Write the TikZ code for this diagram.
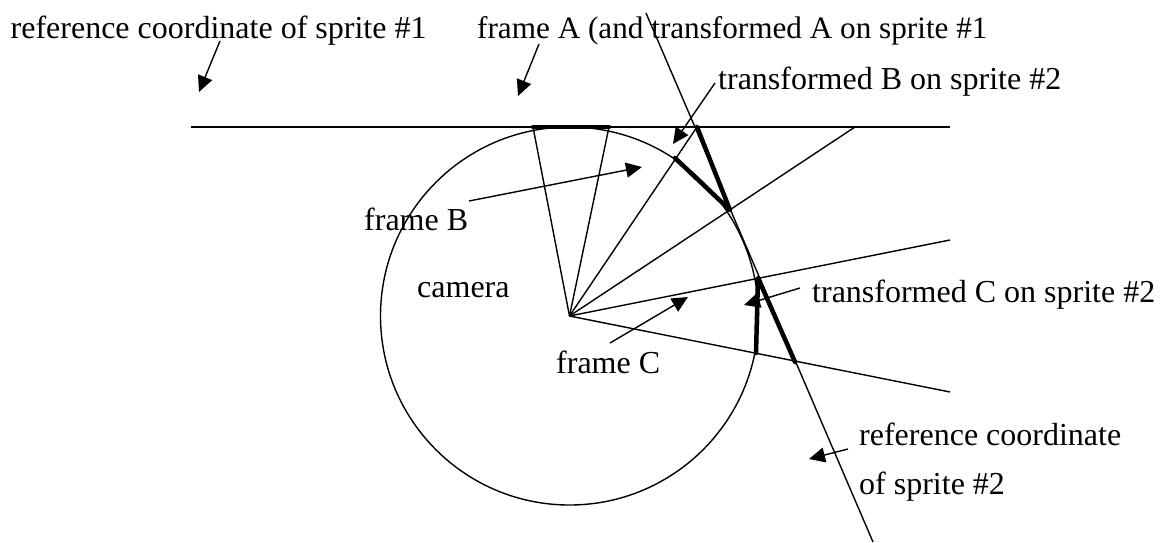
\documentclass[tikz,border=0pt]{standalone}
\usepackage{fontspec}
\setmainfont{Liberation Serif}
\usetikzlibrary{arrows.meta,positioning,calc}
\tikzset{
  spritelabel/.style={inner sep=0pt, anchor=base west, font=\fontsize{32}{36}\selectfont},
  thinline/.style={line width=1.4pt},
  edgebar/.style={line width=4.5pt, line cap=round, line join=round},
  arr/.style={-{Triangle[length=16pt,width=15pt]}, line width=1.4pt},
}
\begin{document}
\begin{tikzpicture}[x=1pt,y=-1pt]
  \useasboundingbox (0,0) rectangle (1165,542);

  % Camera and the two sprites
  \coordinate (O) at (569.5,316);
  \node[draw, circle, thinline, minimum size=378pt, inner sep=0pt] (camera) at (O) {};
  \coordinate (s1l) at (191,127);
  \coordinate (s1r) at (950,127);
  \coordinate (s2t) at (646,13);
  \coordinate (s2b) at (873,542);
  \draw[thinline] (s1l) -- (s1r);
  \draw[thinline] (s2t) -- (s2b);

  % Frame rays
  \coordinate (a1) at (533,127);
  \coordinate (a2) at (609,127);
  \coordinate (b1) at (697,127);
  \coordinate (b2) at (855,127);
  \coordinate (c1) at (950,240);
  \coordinate (c2) at (950,392);
  \foreach \v in {a1, a2, b1, b2, c1, c2}
    \draw[thinline] (O) -- (\v);

  % Thick frame edges
  \coordinate (tb) at (675,158);
  \coordinate (tbb) at (730,210);
  \coordinate (tc) at (758,278);
  \coordinate (tcb) at (756,353);
  \coordinate (sc) at (795,362);
  \draw[edgebar] (a1) -- (a2);
  \draw[edgebar] (tb) -- (tbb) -- (b1);
  \draw[edgebar] (tcb) -- (tc) -- (sc);

  % Labels
  \node[spritelabel] (lref1) at (10.5,38) {reference coordinate of sprite \#1};
  \node[spritelabel, font=\fontsize{31.2}{36}\selectfont] (lframea) at (477,38) {frame A (and transformed A on sprite \#1};
  \node[spritelabel] (ltransb) at (718,89) {transformed B on sprite \#2};
  \node[spritelabel] (lframeb) at (364,230) {frame B};
  \node[spritelabel] (lcamera) at (417,297) {camera};
  \node[spritelabel] (lframec) at (556,373) {frame C};
  \node[spritelabel] (ltransc) at (812,302) {transformed C on sprite \#2};
  \node[spritelabel] (lref2a) at (859,445) {reference coordinate};
  \node[spritelabel] (lref2b) at (859,494) {of sprite \#2};

  % Pointers
  \coordinate (p1s) at (220,41);
  \coordinate (p1e) at (199,92);
  \coordinate (p2s) at (539,44);
  \coordinate (p2e) at (518,96);
  \coordinate (p3s) at (715,83);
  \coordinate (p3e) at (673,144);
  \coordinate (p4s) at (469,201);
  \coordinate (p4e) at (642,167);
  \coordinate (p5s) at (610,343);
  \coordinate (p5e) at (688,297);
  \coordinate (p6s) at (800,288);
  \coordinate (p6e) at (744,305);
  \coordinate (p7s) at (848,449);
  \coordinate (p7e) at (809,459);
  \foreach \s/\e in {p1s/p1e, p2s/p2e, p3s/p3e, p4s/p4e, p5s/p5e, p6s/p6e, p7s/p7e}
    \draw[arr] (\s) -- (\e);
\end{tikzpicture}
\end{document}
